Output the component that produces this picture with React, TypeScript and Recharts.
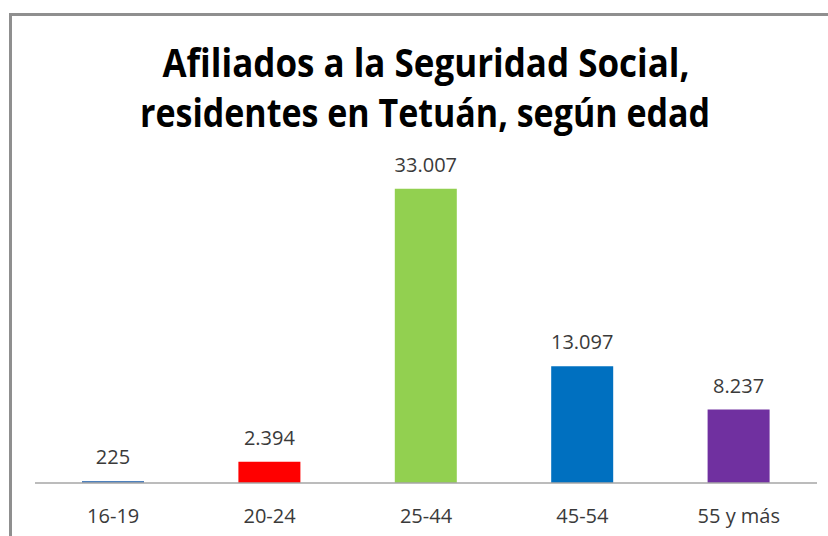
import { BarChart, Bar, XAxis, YAxis, Cell, LabelList } from "recharts";

const categories = ["16-19", "20-24", "25-44", "45-54", "55 y más"];
const afiliados = [225, 2394, 33007, 13097, 8237];
const barColors = ["#4F81BD", "#FF0000", "#92D050", "#0070C0", "#7030A0"];
const titleLines = ["Afiliados a la Seguridad Social,", "residentes en Tetuán, según edad"];

const data = categories.map((name, i) => ({ name, value: afiliados[i] }));

// puntos como separador de miles
const fmt = (v: any) => String(v).replace(/\B(?=(\d{3})+(?!\d))/g, ".");

const font = "'Open Sans', 'Noto Sans', sans-serif";

export default function App() {
  return (
    <div style={{ position: "absolute", left: 0, top: 0, width: 828, height: 536, overflow: "hidden", background: "#fff", fontFamily: font }}>
      <div style={{ position: "absolute", left: 9, top: 13, width: 840, height: 560, border: "3px solid #8f8f8f", boxSizing: "border-box" }} />
      <svg width={828} height={140} style={{ position: "absolute", left: 0, top: 0 }}>
        <text x={426} y={77} textAnchor="middle" fontSize={40} fontWeight="bold" fill="#000" textLength={527} lengthAdjust="spacingAndGlyphs">
          {titleLines[0]}
        </text>
        <text x={425} y={127} textAnchor="middle" fontSize={40} fontWeight="bold" fill="#000" textLength={570} lengthAdjust="spacingAndGlyphs">
          {titleLines[1]}
        </text>
      </svg>
      <div style={{ position: "absolute", left: 0, top: 0 }}>
        <BarChart width={828} height={536} data={data} margin={{ top: 171, right: 11, left: 35, bottom: 0 }}>
          <XAxis
            dataKey="name"
            height={53}
            tickLine={false}
            axisLine={{ stroke: "#a6a6a6", strokeWidth: 1.5 }}
            tick={{ fill: "#3a3a3a", fontSize: 20, fontFamily: font }}
            tickMargin={20}
            interval={0}
          />
          <YAxis hide domain={[0, 35000]} />
          <Bar dataKey="value" barSize={62} isAnimationActive={false}>
            {data.map((d, i) => (
              <Cell key={d.name} fill={barColors[i]} />
            ))}
            <LabelList dataKey="value" position="top" offset={17} formatter={fmt} fill="#3a3a3a" fontSize={20} fontFamily={font} />
          </Bar>
        </BarChart>
      </div>
    </div>
  );
}
